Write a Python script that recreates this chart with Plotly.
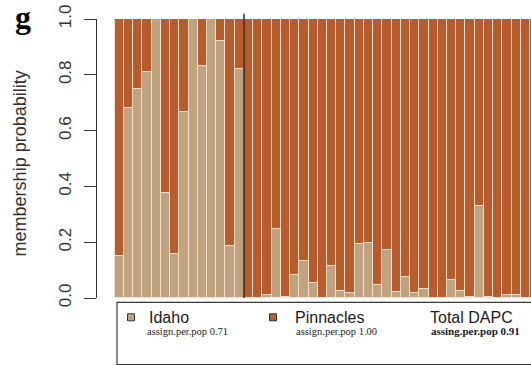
import plotly.graph_objects as go

# Idaho-cluster membership probability for each individual, grouped by sampled population
idaho_group = [0.149, 0.68, 0.75, 0.81, 1.0, 0.376, 0.157, 0.667, 1.0, 0.83, 1.0, 0.92, 0.185, 0.82]
pinnacles_group = [0.0, 0.0, 0.012, 0.246, 0.004, 0.084, 0.132, 0.055, 0.0, 0.116, 0.024, 0.019,
                   0.192, 0.196, 0.047, 0.172, 0.022, 0.074, 0.019, 0.032, 0.0, 0.0, 0.063, 0.026,
                   0.004, 0.33, 0.005, 0.0, 0.012, 0.012, 0.0, 0.0]

cluster_names = ["Idaho", "Pinnacles"]
assign_labels = ["assign.per.pop 0.71", "assign.per.pop 1.00"]
total_label = "Total DAPC"
total_assign = "assing.per.pop 0.91"
y_ticks = [0.0, 0.2, 0.4, 0.6, 0.8, 1.0]
y_title = "membership probability"
panel_letter = "g"

TAN = "#bfa380"
RUST = "#b75c2d"
EDGE = "#f8dcc6"
AXIS = "#333333"

p_idaho = idaho_group + pinnacles_group
p_pinn = [1.0 - v for v in p_idaho]
ids = list(range(len(p_idaho)))

W, H = 531, 365
L, R, T, B = 97, 531, 18.5, 297.7


def px(x):
    return (x - L) / (R - L)


def py(y):
    return (B - y) / (B - T)


fig = go.Figure()
fig.add_bar(x=ids, y=p_idaho, marker=dict(color=TAN, line=dict(color=EDGE, width=1.3)),
            showlegend=False, hoverinfo="skip")
fig.add_bar(x=ids, y=p_pinn, marker=dict(color=RUST, line=dict(color=EDGE, width=1.3)),
            showlegend=False, hoverinfo="skip")

# divider between the two sampled populations
fig.add_shape(type="line", xref="x", yref="paper",
              x0=len(idaho_group) - 0.5, x1=len(idaho_group) - 0.5,
              y0=0, y1=py(13.3), line=dict(color="#111111", width=1.3))

# legend frame and swatches
fig.add_shape(type="rect", xref="paper", yref="paper", x0=px(117), x1=px(540),
              y0=py(364.3), y1=py(302), line=dict(color="#3a3a3a", width=1.2))
for sx, col in [(127.5, TAN), (269.5, RUST)]:
    fig.add_shape(type="rect", xref="paper", yref="paper", x0=px(sx), x1=px(sx + 7),
                  y0=py(320.5), y1=py(313.5), fillcolor=col, line=dict(color="#333333", width=1))

sans = "Liberation Sans, Arial, sans-serif"
serif = "Liberation Serif, Times New Roman, serif"
items = [
    (147, cluster_names[0], 145, assign_labels[0], False),
    (292.5, cluster_names[1], 294, assign_labels[1], False),
    (427.5, total_label, 429, total_assign, True),
]
for hx, head, sx, sub, bold in items:
    fig.add_annotation(x=px(hx), y=py(317.5), xref="paper", yref="paper", text=head,
                       showarrow=False, xanchor="left", yanchor="middle",
                       font=dict(family=sans, size=16, color="#1a1a1a"))
    fig.add_annotation(x=px(sx), y=py(331), xref="paper", yref="paper",
                       text=f"<b>{sub}</b>" if bold else sub,
                       showarrow=False, xanchor="left", yanchor="middle",
                       font=dict(family=serif, size=11 if bold else 10.5, color="#1a1a1a"))

fig.add_annotation(x=px(20), y=py(163), xref="paper", yref="paper", text=y_title,
                   textangle=-90, showarrow=False, xanchor="center", yanchor="middle",
                   font=dict(family=sans, size=18, color=AXIS))
fig.add_annotation(x=px(23), y=py(16), xref="paper", yref="paper", text=f"<b>{panel_letter}</b>",
                   showarrow=False, xanchor="center", yanchor="middle",
                   font=dict(family=serif, size=32, color="#000000"))

fig.update_layout(
    width=W, height=H, barmode="stack", bargap=0,
    margin=dict(l=L, r=W - R, t=T, b=H - B, pad=0, autoexpand=False),
    paper_bgcolor="white", plot_bgcolor="white",
    xaxis=dict(visible=False, range=[-0.5 - 17.7 / 9.23, -0.5 + (R - 114.7) / 9.23]),
    yaxis=dict(range=[0, 1], tickvals=y_ticks, ticktext=[f"{v:.1f}" for v in y_ticks],
               tickangle=-90, ticks="outside", ticklen=12, tickwidth=1.2, tickcolor=AXIS,
               showline=True, linecolor=AXIS, linewidth=1.2, showgrid=False, zeroline=False,
               ticklabelstandoff=6,
               tickfont=dict(family=sans, size=17, color=AXIS), automargin=False),
)

fig.write_html("out.html")
